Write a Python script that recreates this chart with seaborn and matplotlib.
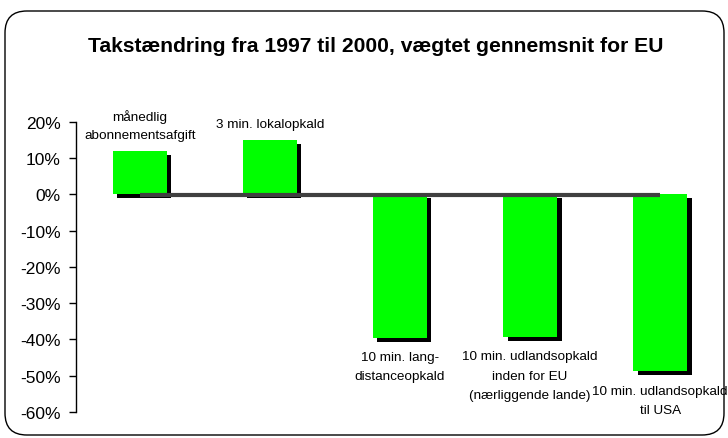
import matplotlib
matplotlib.use("Agg")
import matplotlib.pyplot as plt
import matplotlib.transforms as mtransforms
from matplotlib.patches import FancyBboxPatch
from matplotlib.ticker import FuncFormatter, MultipleLocator
import seaborn as sns
import pandas as pd

categories = [
    "månedlig\nabonnementsafgift",
    "3 min. lokalopkald",
    "10 min. lang-\ndistanceopkald",
    "10 min. udlandsopkald\ninden for EU\n(nærliggende lande)",
    "10 min. udlandsopkald\ntil USA",
]
values = [0.12, 0.15, -0.395, -0.393, -0.488]
title = "Takstændring fra 1997 til 2000, vægtet gennemsnit for EU"

sns.set_theme(style="white")
plt.rcParams["font.family"] = ["Liberation Sans", "DejaVu Sans"]

df = pd.DataFrame({"cat": categories, "val": values})

fig = plt.figure(figsize=(7.28, 4.39), dpi=100)
ax = fig.add_axes([76 / 728, 1 - 413 / 439, (724 - 76) / 728, (413 - 122.7) / 439])

# shadow bars
sns.barplot(data=df, x="cat", y="val", color="black", width=0.415,
            saturation=1, ax=ax, zorder=1)
shadow = list(ax.patches)
off = mtransforms.ScaledTranslation(4.5 / 100, -4 / 100, fig.dpi_scale_trans)
for p in shadow:
    p.set_transform(ax.transData + off)
    p.set_edgecolor("none")

sns.barplot(data=df, x="cat", y="val", color="#00ff00", width=0.415,
            saturation=1, ax=ax, zorder=2)
for p in ax.patches[len(shadow):]:
    p.set_edgecolor("none")

# floor line
off2 = mtransforms.ScaledTranslation(0, -1 / 100, fig.dpi_scale_trans)
ax.plot([0, len(categories) - 1], [0, 0], color="#404040", lw=3,
        solid_capstyle="butt", zorder=3, transform=ax.transData + off2)

ax.set_xlim(-0.49, 4.49)
ax.set_ylim(-0.6, 0.2)
ax.yaxis.set_major_locator(MultipleLocator(0.1))
ax.yaxis.set_major_formatter(FuncFormatter(lambda v, p: f"{round(v * 100):d}%"))
ax.set_xticks([])
ax.set_xlabel("")
ax.set_ylabel("")
for s in ["top", "right", "bottom"]:
    ax.spines[s].set_visible(False)
ax.spines["left"].set_color("black")
ax.spines["left"].set_linewidth(1)
ax.tick_params(axis="y", which="major", left=True, direction="out", length=5,
               width=1, color="black", pad=6, labelsize=12.5, labelcolor="black")
ax.set_facecolor("none")

for i, (c, v) in enumerate(zip(categories, values)):
    if v >= 0:
        ax.annotate(c, (i, v), xytext=(0, 7), textcoords="offset points",
                    ha="center", va="bottom", fontsize=9.7, linespacing=1.65,
                    color="black")
    else:
        ax.annotate(c, (i, v), xytext=(0, -9.5), textcoords="offset points",
                    ha="center", va="top", fontsize=9.7, linespacing=1.85,
                    color="black")

fig.text(376 / 728, 1 - 46 / 439, title, ha="center", va="center",
         fontsize=15.2, fontweight="bold", color="black")

frame = FancyBboxPatch((5 / 728, 1 - 436 / 439), (724 - 5) / 728, (436 - 12) / 439,
                       boxstyle="round,pad=0,rounding_size=0.03",
                       transform=fig.transFigure, facecolor="none",
                       edgecolor="black", lw=1, zorder=0,
                       mutation_aspect=728 / 439)
fig.patches.append(frame)

fig.savefig("out.png", dpi=100)
